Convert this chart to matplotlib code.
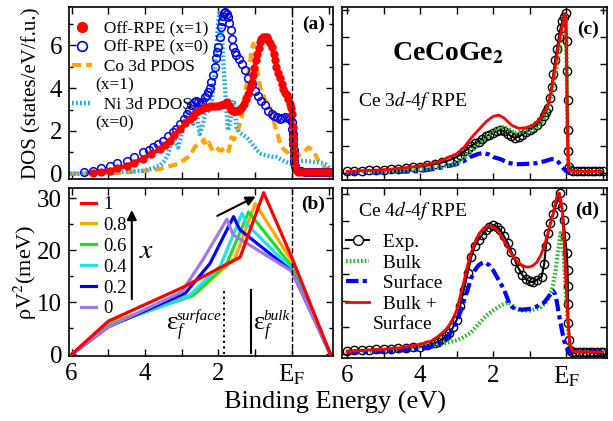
import numpy as np
import matplotlib.pyplot as plt
from matplotlib.lines import Line2D
from matplotlib.ticker import MultipleLocator, FixedLocator, FixedFormatter, NullFormatter

plt.rcParams['font.family'] = ['Liberation Serif', 'DejaVu Serif']
plt.rcParams['mathtext.fontset'] = 'stix'

# ---------------- panel (a): off-resonance PE and PDOS ----------------
e_red_a = [5.42, 5.2, 4.96, 4.75, 4.5, 4.3, 4.05, 3.85, 3.6, 3.45, 3.33, 3.2, 3.05, 2.9, 2.78, 2.7, 2.6,
           2.5, 2.4, 2.28, 2.2, 2.1, 2.0, 1.92, 1.85, 1.78, 1.72, 1.66, 1.6, 1.55, 1.48, 1.42, 1.37, 1.3,
           1.24, 1.2, 1.15, 1.1, 1.06, 1.02, 0.98, 0.94, 0.9, 0.86, 0.83, 0.78, 0.73, 0.69, 0.64, 0.6,
           0.55, 0.5, 0.46, 0.42, 0.37, 0.33, 0.28, 0.23, 0.18, 0.145, 0.1, 0.05, 0.02, 0.0, -0.02, -0.03,
           -0.04, -0.05, -0.06, -0.08, -0.12, -0.17, -0.25, -0.35, -0.45, -0.55, -0.65, -0.75, -0.85,
           -0.95, -1.05]
dos_red_a = [0.03, 0.08, 0.14, 0.25, 0.37, 0.52, 0.69, 0.9, 1.16, 1.35, 1.55, 1.8, 2.09, 2.35, 2.56, 2.72,
             2.9, 3.0, 3.06, 3.12, 3.15, 3.16, 3.18, 3.23, 3.28, 3.34, 3.15, 3.0, 2.94, 2.92, 2.95, 3.02,
             3.1, 3.25, 3.5, 3.75, 4.0, 4.28, 4.6, 4.95, 5.3, 5.6, 5.9, 6.15, 6.3, 6.38, 6.4, 6.39, 6.25,
             6.1, 5.92, 5.6, 5.3, 5.0, 4.7, 4.5, 4.2, 3.95, 3.78, 3.66, 3.5, 3.27, 3.05, 2.8, 2.17, 1.75,
             1.39, 1.0, 0.77, 0.35, 0.15, 0.08, 0.09, 0.1, 0.08, 0.09, 0.08, 0.07, 0.08, 0.07, 0.06]

e_blue_a = [5.65, 5.42, 5.2, 4.96, 4.75, 4.5, 4.3, 4.05, 3.9, 3.78, 3.65, 3.5, 3.37, 3.24, 3.15, 3.05,
            2.95, 2.87, 2.8, 2.74, 2.67, 2.6, 2.55, 2.5, 2.44, 2.37, 2.32, 2.28, 2.23, 2.19, 2.15, 2.1,
            2.06, 2.03, 2.0, 1.97, 1.94, 1.9, 1.87, 1.84, 1.81, 1.77, 1.74, 1.7, 1.66, 1.63, 1.6, 1.55,
            1.51, 1.44, 1.37, 1.28, 1.19, 1.1, 1.01, 0.92, 0.83, 0.74, 0.65, 0.55, 0.48, 0.41, 0.33, 0.26,
            0.19, 0.12, 0.05, 0.01, -0.01, -0.02, -0.03, -0.04, -0.05, -0.06, -0.07, -0.09, -0.12, -0.16,
            -0.25, -0.35, -0.45, -0.55, -0.65, -0.75, -0.85, -0.95, -1.05]
dos_blue_a = [0.06, 0.14, 0.25, 0.37, 0.48, 0.6, 0.8, 1.0, 1.12, 1.23, 1.38, 1.55, 1.75, 1.94, 2.1, 2.33,
              2.55, 2.8, 3.0, 3.19, 3.35, 3.42, 3.35, 3.27, 3.35, 3.58, 3.7, 3.81, 4.0, 4.28, 4.6, 5.0,
              5.4, 5.7, 5.92, 6.4, 6.86, 7.15, 7.4, 7.5, 7.56, 7.48, 7.33, 7.05, 6.7, 6.3, 5.92, 5.7,
              5.53, 5.35, 5.14, 4.85, 4.5, 4.2, 3.89, 3.65, 3.42, 3.2, 2.95, 2.8, 2.7, 2.64, 2.56, 2.6,
              2.64, 2.6, 2.56, 2.4, 2.1, 1.86, 1.6, 1.39, 1.1, 0.84, 0.6, 0.37, 0.2, 0.14, 0.12, 0.1, 0.1,
              0.09, 0.09, 0.08, 0.08, 0.08, 0.07]

e_co = [6.05, 5.5, 5.0, 4.5, 4.0, 3.6, 3.3, 3.1, 2.9, 2.78, 2.65, 2.55, 2.46, 2.4, 2.33, 2.26, 2.19, 2.12,
        2.05, 1.98, 1.92, 1.85, 1.78, 1.72, 1.65, 1.58, 1.51, 1.44, 1.37, 1.3, 1.23, 1.18, 1.14, 1.1,
        1.05, 1.0, 0.98, 0.93, 0.87, 0.8, 0.73, 0.66, 0.6, 0.52, 0.45, 0.38, 0.32, 0.25, 0.18, 0.1, 0.05,
        -0.02, -0.08, -0.17, -0.26, -0.35, -0.45, -0.52, -0.58, -0.65, -0.72, -0.8, -0.9, -0.97, -1.04]
pdos_co = [0.0, 0.01, 0.02, 0.06, 0.14, 0.22, 0.37, 0.45, 0.69, 0.84, 1.23, 1.4, 1.47, 1.6, 1.31, 1.45,
           1.16, 1.3, 1.23, 1.1, 1.08, 1.2, 1.23, 1.05, 1.7, 1.6, 1.86, 2.2, 2.64, 3.5, 4.2, 4.8, 5.14,
           5.8, 6.08, 5.6, 5.14, 4.7, 4.05, 3.8, 3.42, 3.3, 3.11, 2.6, 2.17, 1.8, 1.39, 1.2, 1.08, 0.95,
           0.84, 0.8, 0.77, 0.85, 0.92, 1.05, 1.23, 1.15, 1.08, 0.85, 0.61, 0.45, 0.3, 0.15, 0.06]

e_ni = [6.05, 5.8, 5.6, 5.3, 4.96, 4.5, 4.05, 3.8, 3.6, 3.47, 3.37, 3.3, 3.24, 3.17, 3.1, 3.03, 2.96, 2.9,
        2.83, 2.76, 2.69, 2.63, 2.6, 2.56, 2.51, 2.44, 2.36, 2.27, 2.18, 2.13, 2.09, 2.05, 2.0, 1.96, 1.93,
        1.9, 1.87, 1.83, 1.78, 1.74, 1.7, 1.65, 1.58, 1.55, 1.51, 1.44, 1.37, 1.28, 1.19, 1.1, 1.01, 0.92,
        0.83, 0.7, 0.55, 0.41, 0.28, 0.14, 0.01, -0.08, -0.17, -0.3, -0.45, -0.6, -0.72, -0.82, -0.9,
        -0.97, -1.04]
pdos_ni = [0.0, 0.0, 0.02, 0.04, 0.06, 0.1, 0.14, 0.25, 0.37, 0.6, 0.92, 1.4, 1.86, 1.5, 1.23, 1.7, 2.17,
           2.6, 2.95, 2.6, 2.33, 2.7, 3.1, 2.4, 1.86, 2.2, 2.8, 2.95, 3.42, 4.2, 4.98, 6.1, 7.17, 7.64,
           7.0, 6.23, 5.2, 4.2, 3.0, 2.02, 2.3, 2.8, 3.42, 2.9, 2.17, 1.95, 1.86, 1.75, 1.62, 1.42, 1.23,
           1.05, 0.92, 0.85, 0.8, 0.77, 0.65, 0.53, 0.45, 0.52, 0.61, 0.6, 0.58, 0.55, 0.53, 0.5, 0.45,
           0.35, 0.22]

# ---------------- panel (b): hybridisation rho V^2 ----------------
x_values = ['1', '0.8', '0.6', '0.4', '0.2', '0']
x_colors = ['#ff0000', '#ffa500', '#22dd22', '#22e0f0', '#0000ff', '#a07ae0']
e_hyb = {
    '0':   [6, 5, 3.0, 2.4, 1.77, 1.6, 0, -1.05],
    '0.2': [6, 5, 2.9, 2.23, 1.59, 1.42, 0, -1.05],
    '0.4': [6, 5, 2.8, 1.95, 1.36, 1.22, 0, -1.05],
    '0.6': [6, 5, 2.7, 1.77, 1.18, 0, -1.05],
    '0.8': [6, 5, 2.6, 1.55, 1.0, 0, -1.05],
    '1':   [6, 5, 3.0, 1.41, 0.77, 0, -1.05],
}
rhov2 = {
    '0':   [0, 5.3, 12.0, 18.5, 26.0, 23.0, 16.0, 0],
    '0.2': [0, 5.3, 11.8, 17.5, 26.5, 24.0, 16.0, 0],
    '0.4': [0, 5.5, 11.3, 17.0, 27.1, 25.0, 16.3, 0],
    '0.6': [0, 5.7, 11.3, 17.5, 27.4, 16.9, 0],
    '0.8': [0, 6.0, 11.8, 18.5, 29.0, 17.9, 0],
    '1':   [0, 6.4, 12.8, 18.7, 31.1, 18.6, 0],
}
eps_surface = 1.86
eps_bulk = 1.12

# ---------------- panel (c): Ce 3d-4f RPE ----------------
e_exp_c = [6.0, 5.8, 5.6, 5.4, 5.2, 5.0, 4.8, 4.6, 4.4, 4.2, 4.0, 3.8, 3.6, 3.4, 3.2, 3.0, 2.9, 2.8, 2.7,
           2.6, 2.5, 2.4, 2.3, 2.2, 2.1, 2.0, 1.9, 1.8, 1.7, 1.6, 1.5, 1.4, 1.3, 1.2, 1.1, 1.0, 0.9, 0.8,
           0.7, 0.6, 0.55, 0.5, 0.45, 0.4, 0.35, 0.3, 0.25, 0.2, 0.15, 0.1, 0.05, 0.0, -0.02, -0.03,
           -0.04, -0.05, -0.06, -0.08, -0.12, -0.2, -0.3, -0.4, -0.5, -0.6, -0.7, -0.8, -0.9, -1.0]
int_exp_c = [0.01, 0.012, 0.014, 0.016, 0.018, 0.02, 0.024, 0.028, 0.032, 0.036, 0.04, 0.047, 0.055,
             0.066, 0.08, 0.1, 0.115, 0.135, 0.15, 0.17, 0.185, 0.197, 0.213, 0.23, 0.24, 0.25, 0.262,
             0.27, 0.262, 0.245, 0.23, 0.22, 0.228, 0.24, 0.255, 0.27, 0.285, 0.3, 0.325, 0.36, 0.385,
             0.41, 0.47, 0.54, 0.62, 0.705, 0.78, 0.85, 0.91, 0.955, 0.98, 1.0, 0.83, 0.64, 0.46, 0.27,
             0.14, 0.04, 0.02, 0.01, 0.01, 0.01, 0.01, 0.01, 0.01, 0.01, 0.01, 0.01]

e_bulk_c = [6.0, 5.0, 4.5, 4.0, 3.5, 3.0, 2.8, 2.6, 2.4, 2.2, 2.0, 1.8, 1.6, 1.4, 1.2, 1.0, 0.8, 0.6, 0.5,
            0.4, 0.3, 0.2, 0.1, 0.03, 0.0, -0.02, -0.04, -0.06, -0.09, -0.15, -0.5, -1.0]
int_bulk_c = [0.005, 0.01, 0.015, 0.02, 0.035, 0.06, 0.09, 0.14, 0.18, 0.22, 0.26, 0.29, 0.28, 0.25,
              0.26, 0.26, 0.28, 0.34, 0.4, 0.48, 0.6, 0.75, 0.89, 0.955, 0.95, 0.6, 0.3, 0.1, 0.02, 0.01,
              0.01, 0.01]

e_surf_c = [6.0, 5.0, 4.0, 3.5, 3.0, 2.8, 2.63, 2.4, 2.25, 2.1, 2.0, 1.8, 1.6, 1.4, 1.2, 1.0, 0.8, 0.6,
            0.4, 0.3, 0.2, 0.1, 0.0, -0.1]
int_surf_c = [0.0, 0.005, 0.012, 0.03, 0.055, 0.075, 0.1, 0.12, 0.125, 0.115, 0.1, 0.087, 0.065, 0.055,
              0.056, 0.058, 0.062, 0.073, 0.087, 0.085, 0.065, 0.035, 0.012, 0.005]

e_sum_c = [6.0, 5.0, 4.5, 4.0, 3.5, 3.0, 2.8, 2.6, 2.4, 2.2, 2.0, 1.85, 1.7, 1.5, 1.3, 1.1, 0.9, 0.7, 0.5,
           0.4, 0.3, 0.2, 0.1, 0.02, -0.01, -0.03, -0.05, -0.07, -0.15, -0.5, -0.95]
int_sum_c = [0.01, 0.02, 0.03, 0.045, 0.07, 0.12, 0.16, 0.22, 0.27, 0.32, 0.355, 0.363, 0.345, 0.3, 0.28,
             0.284, 0.3, 0.34, 0.425, 0.52, 0.66, 0.81, 0.93, 1.0, 0.7, 0.3, 0.06, 0.015, 0.01, 0.01,
             0.01]

# ---------------- panel (d): Ce 4d-4f RPE ----------------
e_exp_d = [6.0, 5.8, 5.6, 5.4, 5.2, 5.0, 4.8, 4.6, 4.4, 4.2, 4.0, 3.8, 3.6, 3.5, 3.4, 3.3, 3.2, 3.1, 3.0,
           2.9, 2.8, 2.7, 2.6, 2.5, 2.4, 2.3, 2.2, 2.1, 2.0, 1.9, 1.8, 1.7, 1.6, 1.5, 1.4, 1.3, 1.2, 1.1,
           1.0, 0.9, 0.8, 0.67, 0.6, 0.55, 0.49, 0.44, 0.35, 0.27, 0.18, 0.12, 0.07, 0.03, -0.02, -0.04,
           -0.05, -0.055, -0.06, -0.08, -0.11, -0.16, -0.25, -0.35, -0.45, -0.55, -0.65, -0.75, -0.85,
           -0.95, -1.0]
int_exp_d = [0.02, 0.022, 0.024, 0.026, 0.028, 0.03, 0.033, 0.036, 0.039, 0.042, 0.045, 0.055, 0.068,
             0.077, 0.09, 0.11, 0.13, 0.165, 0.21, 0.3, 0.4, 0.5, 0.6, 0.67, 0.71, 0.74, 0.77, 0.79, 0.8,
             0.79, 0.77, 0.73, 0.69, 0.635, 0.58, 0.53, 0.49, 0.465, 0.45, 0.445, 0.46, 0.48, 0.56, 0.67,
             0.75, 0.81, 0.87, 0.93, 1.0, 0.915, 0.83, 0.73, 0.625, 0.52, 0.42, 0.31, 0.19, 0.087, 0.025,
             0.015, 0.012, 0.012, 0.012, 0.012, 0.012, 0.012, 0.012, 0.012, 0.012]

e_bulk_d = [6.0, 5.0, 4.5, 4.0, 3.5, 3.0, 2.8, 2.6, 2.4, 2.2, 2.0, 1.8, 1.7, 1.6, 1.5, 1.4, 1.3, 1.2, 1.0,
            0.8, 0.7, 0.6, 0.5, 0.4, 0.35, 0.3, 0.25, 0.2, 0.16, 0.12, 0.08, 0.05, 0.0, -0.05, -0.1,
            -0.15, -0.2, -0.6, -1.0]
int_bulk_d = [0.01, 0.02, 0.028, 0.04, 0.058, 0.085, 0.105, 0.135, 0.185, 0.235, 0.27, 0.3, 0.31, 0.32,
              0.31, 0.285, 0.275, 0.27, 0.27, 0.28, 0.29, 0.31, 0.34, 0.39, 0.44, 0.5, 0.59, 0.67, 0.75,
              0.74, 0.65, 0.56, 0.34, 0.17, 0.056, 0.02, 0.015, 0.012, 0.012]

e_surf_d = [6.0, 5.0, 4.0, 3.7, 3.5, 3.3, 3.2, 3.1, 3.0, 2.9, 2.8, 2.7, 2.6, 2.5, 2.4, 2.3, 2.25, 2.2, 2.1,
            2.0, 1.9, 1.8, 1.7, 1.6, 1.55, 1.5, 1.4, 1.2, 1.0, 0.8, 0.6, 0.5, 0.4, 0.35, 0.3, 0.25, 0.2,
            0.15, 0.1, 0.05, 0.0, -0.05, -0.1, -0.2, -0.6, -1.0]
int_surf_d = [0.01, 0.015, 0.03, 0.045, 0.06, 0.09, 0.12, 0.155, 0.2, 0.26, 0.33, 0.4, 0.47, 0.52, 0.55,
              0.565, 0.57, 0.566, 0.55, 0.52, 0.48, 0.44, 0.4, 0.34, 0.31, 0.295, 0.28, 0.275, 0.28,
              0.295, 0.32, 0.35, 0.38, 0.39, 0.37, 0.32, 0.25, 0.19, 0.13, 0.08, 0.045, 0.025, 0.015,
              0.012, 0.012, 0.012]

e_sum_d = [6.0, 5.0, 4.5, 4.0, 3.7, 3.5, 3.3, 3.2, 3.1, 3.0, 2.9, 2.8, 2.7, 2.6, 2.5, 2.4, 2.3, 2.2, 2.1,
           2.0, 1.9, 1.8, 1.7, 1.6, 1.5, 1.4, 1.3, 1.2, 1.1, 1.0, 0.9, 0.8, 0.7, 0.6, 0.5, 0.4, 0.3, 0.25,
           0.2, 0.15, 0.1, 0.05, 0.0, -0.05, -0.1, -0.15, -0.2, -0.6, -1.0]
int_sum_d = [0.015, 0.03, 0.04, 0.06, 0.08, 0.11, 0.15, 0.18, 0.22, 0.27, 0.36, 0.45, 0.55, 0.63, 0.69,
             0.74, 0.77, 0.79, 0.795, 0.79, 0.77, 0.74, 0.7, 0.66, 0.62, 0.59, 0.565, 0.55, 0.54, 0.54,
             0.55, 0.57, 0.61, 0.67, 0.75, 0.83, 0.93, 0.98, 1.0, 0.96, 0.88, 0.67, 0.42, 0.21, 0.066,
             0.025, 0.015, 0.012, 0.012]

# ---------------- figure ----------------
fig = plt.figure(figsize=(6.13, 4.21), dpi=100)
ax_a = fig.add_axes([0.1126, 0.5748, 0.4307, 0.4086])
ax_b = fig.add_axes([0.1126, 0.1544, 0.4307, 0.3990])
ax_c = fig.add_axes([0.5579, 0.5724, 0.4323, 0.4109])
ax_d = fig.add_axes([0.5579, 0.1496, 0.4323, 0.4038])

tick_font = 18
for ax in (ax_a, ax_b, ax_c, ax_d):
    ax.tick_params(which='both', direction='in', top=True, right=True, width=1,
                   labelsize=tick_font, pad=5)
    ax.tick_params(which='major', length=5)
    ax.tick_params(which='minor', length=3)
    ax.xaxis.set_major_locator(MultipleLocator(1))
    for sp in ax.spines.values():
        sp.set_linewidth(1.2)

# panel (a)
ax_a.plot(e_co, pdos_co, color='#ffa500', lw=3, ls=(0, (2.2, 1.2)))
ax_a.plot(e_ni, pdos_ni, color='#22aaee', lw=3.2, ls=(0, (0.4, 0.5)))
ax_a.plot(e_blue_a, dos_blue_a, 'o', mfc='none', mec='#0000ee', ms=5.5, mew=1.1)
ax_a.plot(e_red_a, dos_red_a, color='#ff0000', lw=3)
ax_a.plot(e_red_a, dos_red_a, 'o', color='#ff0000', ms=5)
ax_a.axvline(0, color='k', ls='--', lw=1)
ax_a.set_xlim(6.07, -1.12)
ax_a.set_ylim(-0.25, 7.8)
ax_a.yaxis.set_major_locator(MultipleLocator(2))
ax_a.yaxis.set_minor_locator(MultipleLocator(1))
ax_a.xaxis.set_major_formatter(NullFormatter())
ax_a.set_ylabel('DOS (states/eV/f.u.)', fontsize=15)
ax_a.yaxis.set_label_coords(-0.105, 0.5)
ax_a.text(0.97, 0.9, '(a)', transform=ax_a.transAxes, ha='right', va='center',
          fontsize=14, fontweight='bold')
h_a = [Line2D([], [], ls='none', marker='o', color='#ff0000', ms=7),
       Line2D([], [], ls='none', marker='o', mfc='none', mec='#0000ee', ms=7, mew=1.2),
       Line2D([], [], color='#ffa500', lw=3, ls=(0, (2.2, 1.2))),
       Line2D([], [], ls='none'),
       Line2D([], [], color='#22aaee', lw=3.2, ls=(0, (0.4, 0.5))),
       Line2D([], [], ls='none')]
l_a = ['  Off-RPE (x=1)', '  Off-RPE (x=0)', '  Co 3d PDOS', '(x=1)', '  Ni 3d PDOS', '(x=0)']
ax_a.legend(h_a, l_a, loc='upper left', bbox_to_anchor=(0.0, 0.94), frameon=False, fontsize=12.5,
            handlelength=1.1, handletextpad=0.2, labelspacing=0.16, borderaxespad=0.0, borderpad=0.2)

# panel (b)
for xv, col in zip(x_values, x_colors):
    ax_b.plot(e_hyb[xv], rhov2[xv], color=col, lw=2.3, label=xv)
ax_b.lines[0].set_zorder(3)
ax_b.axvline(0, color='k', ls='--', lw=1)
ax_b.vlines(eps_surface, 0, 12.4, color='k', ls=':', lw=1.5)
ax_b.vlines(eps_bulk, 0, 12.6, color='k', ls='-', lw=1.5)
ax_b.set_xlim(6.07, -1.12)
ax_b.set_ylim(-0.3, 32)
ax_b.yaxis.set_major_locator(MultipleLocator(10))
ax_b.yaxis.set_minor_locator(MultipleLocator(5))
ax_b.xaxis.set_major_locator(FixedLocator([6, 5, 4, 3, 2, 1, 0, -1]))
ax_b.xaxis.set_major_formatter(FixedFormatter(['6', '', '4', '', '2', '', r'E$_\mathrm{F}$', '']))
ax_b.set_ylabel('ρV$^2$(meV)', fontsize=16)
ax_b.yaxis.set_label_coords(-0.115, 0.5)
ax_b.text(0.97, 0.9, '(b)', transform=ax_b.transAxes, ha='right', va='center',
          fontsize=14, fontweight='bold')
ax_b.legend(loc='upper left', bbox_to_anchor=(0.03, 0.975), frameon=False, fontsize=13.5,
            handlelength=0.8, handletextpad=0.4, labelspacing=0.2, borderaxespad=0.0, borderpad=0.2)
ax_b.annotate('', xy=(4.36, 28.3), xytext=(4.36, 10.1),
              arrowprops=dict(arrowstyle='-|>', color='k', lw=1.5, mutation_scale=14))
ax_b.annotate('', xy=(0.92, 30.6), xytext=(2.1, 26.4),
              arrowprops=dict(arrowstyle='-|>', color='k', lw=1.5, mutation_scale=14))
ax_b.text(3.95, 19.7, r'$x$', fontsize=20, ha='center', va='center')
# epsilon_f labels
for e0, sup in ((3.40, 'surface'), (1.03, 'bulk')):
    ax_b.text(e0, 4.8, 'ε', fontsize=19, ha='left', va='baseline')
    ax_b.annotate('f', xy=(e0, 4.8), xytext=(8, -4), textcoords='offset points',
                  fontsize=12, fontstyle='italic', ha='left', va='baseline')
    ax_b.annotate(sup, xy=(e0, 4.8), xytext=(7, 7), textcoords='offset points',
                  fontsize=11, fontstyle='italic', ha='left', va='baseline')

# panel (c)
ax_c.plot(e_exp_c, int_exp_c, '-o', color='k', lw=1.5, mfc='none', mec='k', ms=6, mew=1)
ax_c.plot(e_surf_c, int_surf_c, color='#0000ff', lw=3, ls=(0, (3, 1, 1, 1)))
ax_c.plot(e_bulk_c, int_bulk_c, color='#22bb22', lw=3, ls=(0, (0.4, 0.5)))
ax_c.plot(e_sum_c, int_sum_c, color='#ff0000', lw=2)
ax_c.set_xlim(6.14, -1.12)
ax_c.set_ylim(-0.044, 1.04)
ax_c.yaxis.set_major_locator(MultipleLocator(0.17))
ax_c.xaxis.set_major_formatter(NullFormatter())
ax_c.yaxis.set_major_formatter(NullFormatter())
ax_c.text(0.40, 0.73, r'CeCoGe$_\mathbf{2}$', transform=ax_c.transAxes, ha='center', va='center',
          fontsize=20, fontweight='bold')
ax_c.text(0.06, 0.46, r'Ce 3$d$-4$f$ RPE', transform=ax_c.transAxes, ha='left', va='center',
          fontsize=14)
ax_c.text(0.97, 0.87, '(c)', transform=ax_c.transAxes, ha='right', va='center',
          fontsize=14, fontweight='bold')

# panel (d)
ax_d.plot(e_exp_d, int_exp_d, '-o', color='k', lw=1.5, mfc='none', mec='k', ms=6, mew=1)
ax_d.plot(e_bulk_d, int_bulk_d, color='#22bb22', lw=3, ls=(0, (0.4, 0.5)))
ax_d.plot(e_surf_d, int_surf_d, color='#0000ff', lw=3, ls=(0, (3, 1, 1, 1)))
ax_d.plot(e_sum_d, int_sum_d, color='#ff0000', lw=2)
ax_d.set_xlim(6.14, -1.12)
ax_d.set_ylim(-0.025, 1.03)
ax_d.yaxis.set_major_locator(MultipleLocator(0.165))
ax_d.yaxis.set_major_formatter(NullFormatter())
ax_d.xaxis.set_major_locator(FixedLocator([6, 5, 4, 3, 2, 1, 0, -1]))
ax_d.xaxis.set_major_formatter(FixedFormatter(['6', '', '4', '', '2', '', r'E$_\mathrm{F}$', '']))
ax_d.text(0.06, 0.87, r'Ce 4$d$-4$f$ RPE', transform=ax_d.transAxes, ha='left', va='center',
          fontsize=14)
ax_d.text(0.97, 0.87, '(d)', transform=ax_d.transAxes, ha='right', va='center',
          fontsize=14, fontweight='bold')
h_d = [Line2D([], [], color='k', lw=1.5, marker='o', mfc='white', mec='k', ms=7),
       Line2D([], [], color='#22bb22', lw=3, ls=(0, (0.4, 0.5))),
       Line2D([], [], color='#0000ff', lw=3, ls=(0, (3, 1, 1, 1))),
       Line2D([], [], color='#ff0000', lw=2),
       Line2D([], [], ls='none')]
l_d = ['  Exp.', '  Bulk', '  Surface', '  Bulk +', 'Surface']
ax_d.legend(h_d, l_d, loc='upper left', bbox_to_anchor=(0.0, 0.755), frameon=False, fontsize=14,
            handlelength=1.2, handletextpad=0.2, labelspacing=0.15, borderaxespad=0.0, borderpad=0.2)

fig.text(0.547, 0.045, 'Binding Energy (eV)', ha='center', va='center', fontsize=19)

fig.savefig('out.png', dpi=100)
